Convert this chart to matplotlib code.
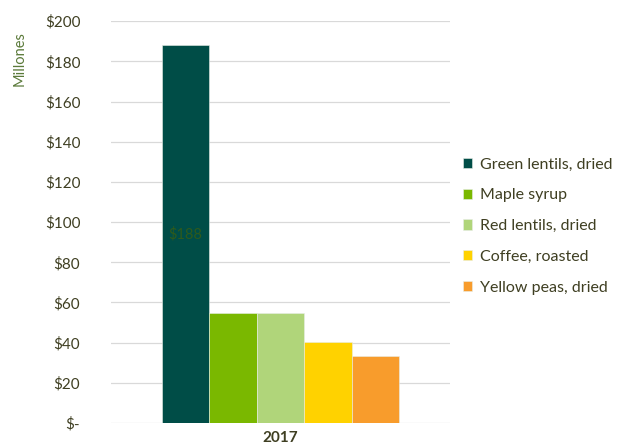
import matplotlib.pyplot as plt
import numpy as np

plt.rcParams['font.family'] = ['Lato', 'DejaVu Sans']

products = ['Green lentils, dried', 'Maple syrup', 'Red lentils, dried',
            'Coffee, roasted', 'Yellow peas, dried']
values = [188, 54.5, 54.5, 40.3, 33.3]
colors = ['#004d47', '#7ab800', '#b0d57a', '#ffd200', '#f89c2c']
year = '2017'
yticks = list(range(0, 201, 20))
ytick_labels = ['$-'] + ['$%d' % v for v in yticks[1:]]

TEXT = '#3f3f22'

fig = plt.figure(figsize=(6.41, 4.48), dpi=100)
ax = fig.add_axes([0.173, 0.0558, 0.529, 0.897])

width = 0.14
n = len(values)
offsets = (np.arange(n) - (n - 1) / 2) * width
for off, v, c, lab in zip(offsets, values, colors, products):
    ax.bar(off, v, width=width, color=c, label=lab,
           edgecolor='#e8eee8', linewidth=0.4, zorder=3)

ax.text(offsets[0], values[0] / 2, '$%d' % values[0], ha='center',
        va='center', color='#2e5a1c', fontsize=10.5, zorder=4)

ax.set_xlim(-0.5, 0.5)
ax.set_ylim(0, 200)
ax.set_yticks(yticks)
ax.set_yticklabels(ytick_labels)
ax.set_xticks([0])
ax.set_xticklabels([year], fontweight='bold')
ax.tick_params(axis='both', length=0, colors=TEXT, labelsize=11)
ax.tick_params(axis='y', pad=22)
ax.tick_params(axis='x', pad=6)
ax.grid(axis='y', color='#d9d9d9', linewidth=0.9, zorder=0)
for s in ax.spines.values():
    s.set_visible(False)

fig.text(0.03, 0.93, 'Millones', rotation=90, ha='center', va='top',
         color='#5b7a3a', fontsize=10.5)

leg = ax.legend(loc='center left', bbox_to_anchor=(0.995, 0.49), frameon=False,
                fontsize=11.5, handlelength=0.6, handleheight=0.6,
                handletextpad=0.5, labelspacing=1.05)
for t in leg.get_texts():
    t.set_color(TEXT)

fig.savefig('out.png', dpi=100)
